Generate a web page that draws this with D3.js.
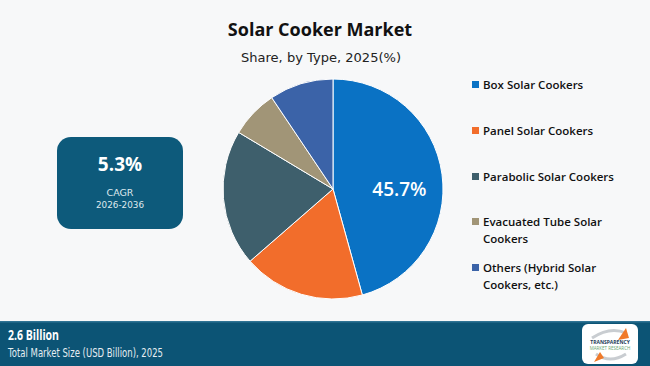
<!DOCTYPE html>
<html>
<head>
<meta charset="utf-8">
<script src="https://cdn.jsdelivr.net/npm/d3@7"></script>
<style>
  html, body { margin: 0; padding: 0; background: #f7f8f9; }
  svg { display: block; }
</style>
</head>
<body>
<div id="chart"></div>
<script>
// data
var categories = ["Box Solar Cookers", "Panel Solar Cookers", "Parabolic Solar Cookers",
                  "Evacuated Tube Solar Cookers", "Others (Hybrid Solar Cookers, etc.)"];
var legendLines = [["Box Solar Cookers"], ["Panel Solar Cookers"], ["Parabolic Solar Cookers"],
                   ["Evacuated Tube Solar", "Cookers"], ["Others (Hybrid Solar", "Cookers, etc.)"]];
var shares = [45.7, 17.9, 20.0, 7.0, 9.4];
var colors = ["#0a72c4", "#f26d2b", "#3e5f6c", "#a19577", "#3b63a8"];

var W = 650, H = 366;
var FONT = "'Open Sans', 'Liberation Sans', sans-serif";
var BAND = "#0c5475";

var svg = d3.select("#chart").append("svg")
  .attr("width", W).attr("height", H);

svg.append("rect").attr("width", W).attr("height", H).attr("fill", "#f7f8f9");

// titles
svg.append("text").attr("x", 320).attr("y", 36)
  .attr("text-anchor", "middle").attr("font-family", FONT)
  .attr("font-weight", 700).attr("font-size", 18).attr("fill", "#111")
  .text("Solar Cooker Market");
svg.append("text").attr("x", 321).attr("y", 62)
  .attr("text-anchor", "middle").attr("font-family", "'DejaVu Sans', sans-serif")
  .attr("font-size", 13).attr("fill", "#222")
  .attr("textLength", 160).attr("lengthAdjust", "spacingAndGlyphs")
  .text("Share, by Type, 2025(%)");

// pie
var cx = 333, cy = 189, R = 110;
var pie = d3.pie().sort(null).value(function(d) { return d; });
var arc = d3.arc().innerRadius(0).outerRadius(R);
var g = svg.append("g").attr("transform", "translate(" + cx + "," + cy + ")");
var arcs = pie(shares);

g.selectAll("path").data(arcs).enter().append("path")
  .attr("d", arc)
  .attr("fill", function(d, i) { return colors[i]; })
  .attr("stroke", "#ffffff").attr("stroke-width", 1);

// only the largest slice is labelled
var labelArc = d3.arc().innerRadius(R * 0.6).outerRadius(R * 0.6);
var c0 = labelArc.centroid(arcs[0]);
g.append("text")
  .attr("x", c0[0] + 1).attr("y", 7)
  .attr("text-anchor", "middle").attr("font-family", FONT)
  .attr("font-weight", 600).attr("font-size", 19).attr("fill", "#fff")
  .text(shares[0].toFixed(1) + "%");

// legend
var legY = [85, 131, 177, 222, 268];
var leg = svg.append("g");
legendLines.forEach(function(lines, i) {
  leg.append("rect").attr("x", 472).attr("y", legY[i] - 4)
    .attr("width", 7).attr("height", 7).attr("fill", colors[i]);
  lines.forEach(function(t, j) {
    leg.append("text").attr("x", 483).attr("y", legY[i] + 4 + j * 17)
      .attr("font-family", FONT).attr("font-weight", 600)
      .attr("font-size", 11.5).attr("fill", "#111")
      .text(t);
  });
});

// CAGR box
svg.append("rect").attr("x", 57).attr("y", 137).attr("width", 126).attr("height", 92)
  .attr("rx", 14).attr("fill", "#0d5a7b");
svg.append("text").attr("x", 120).attr("y", 171).attr("text-anchor", "middle")
  .attr("font-family", FONT).attr("font-weight", 700).attr("font-size", 19).attr("fill", "#fff")
  .text("5.3%");
svg.append("text").attr("x", 120).attr("y", 196).attr("text-anchor", "middle")
  .attr("font-family", "'DejaVu Sans', sans-serif").attr("font-size", 9.5).attr("fill", "#dfe9ee")
  .text("CAGR");
svg.append("text").attr("x", 120).attr("y", 208).attr("text-anchor", "middle")
  .attr("font-family", "'DejaVu Sans', sans-serif").attr("font-size", 9.5).attr("fill", "#dfe9ee")
  .attr("textLength", 48).attr("lengthAdjust", "spacingAndGlyphs")
  .text("2026-2036");

// bottom band
svg.append("rect").attr("x", 0).attr("y", 321).attr("width", W).attr("height", H - 321)
  .attr("fill", BAND);
svg.append("rect").attr("x", 0).attr("y", 321).attr("width", W).attr("height", 1.5)
  .attr("fill", "#2f7394");
svg.append("text").attr("x", 8).attr("y", 340)
  .attr("font-family", FONT).attr("font-weight", 700).attr("font-size", 13.5).attr("fill", "#fff")
  .attr("textLength", 51).attr("lengthAdjust", "spacingAndGlyphs")
  .text("2.6 Billion");
svg.append("text").attr("x", 8).attr("y", 357)
  .attr("font-family", "'DejaVu Sans', sans-serif").attr("font-size", 12).attr("fill", "#e6eef2")
  .attr("textLength", 155).attr("lengthAdjust", "spacingAndGlyphs")
  .text("Total Market Size (USD Billion), 2025");

// logo
var logo = svg.append("g").attr("transform", "translate(582,324)");
logo.append("rect").attr("width", 56).attr("height", 40).attr("rx", 6).attr("fill", "#ffffff");
logo.append("path").attr("d", "M10,14 Q28,2 44,9").attr("fill", "none")
  .attr("stroke", "#c9cdd1").attr("stroke-width", 3);
logo.append("path").attr("d", "M36,16 L44,4 L47,14 Z").attr("fill", "#f07a2a");
logo.append("path").attr("d", "M14,30 Q28,40 44,30").attr("fill", "none")
  .attr("stroke", "#c9cdd1").attr("stroke-width", 3);
logo.append("path").attr("d", "M18,28 L12,38 L22,34 Z").attr("fill", "#f07a2a");
logo.append("text").attr("x", 28).attr("y", 20).attr("text-anchor", "middle")
  .attr("font-family", FONT).attr("font-weight", 700).attr("font-size", 5).attr("fill", "#1d3b57")
  .text("TRANSPARENCY");
logo.append("text").attr("x", 28).attr("y", 26).attr("text-anchor", "middle")
  .attr("font-family", FONT).attr("font-size", 4.5).attr("fill", "#6aa56f")
  .text("MARKET RESEARCH");
</script>
</body>
</html>
